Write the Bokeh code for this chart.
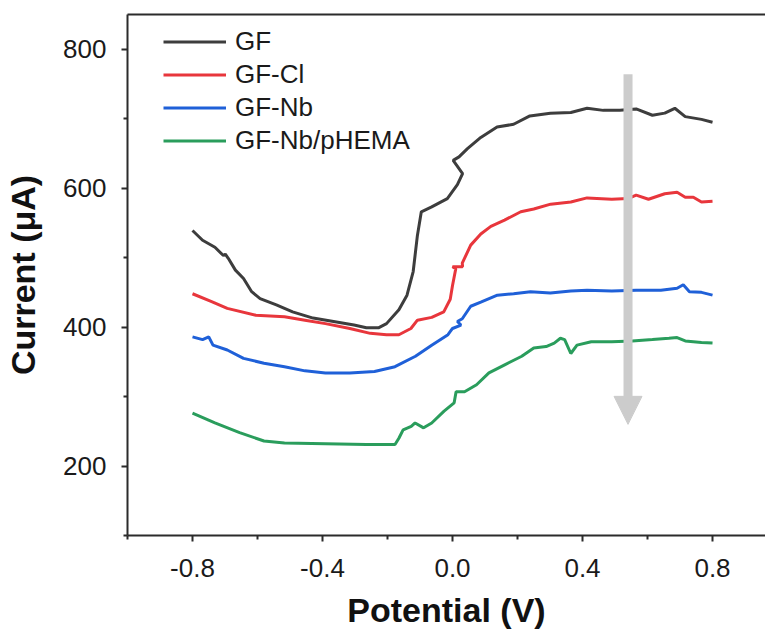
from bokeh.plotting import figure
from bokeh.models import (Range1d, LinearAxis, FixedTicker, NumeralTickFormatter,
                          Legend, LegendItem, Arrow, NormalHead)
from bokeh.embed import file_html
from bokeh.resources import INLINE

# ---- data ----
gf_v = [-0.800, -0.769, -0.731, -0.705, -0.699, -0.690, -0.668, -0.643, -0.618, -0.592,
        -0.542, -0.492, -0.429, -0.366, -0.303, -0.265, -0.228, -0.203, -0.165, -0.140,
        -0.121, -0.108, -0.096, -0.064, -0.016, 0.015, 0.031, 0.002, 0.020, 0.046,
        0.087, 0.137, 0.188, 0.238, 0.301, 0.364, 0.414, 0.464, 0.515, 0.565,
        0.615, 0.653, 0.684, 0.716, 0.766, 0.800]
gf_i = [539, 525, 515, 503, 505, 499, 482, 470, 451, 441,
        432, 422, 413, 408, 403, 399, 399, 405, 425, 446,
        480, 532, 566, 573, 585, 605, 621, 640, 645, 657,
        673, 688, 692, 704, 708, 709, 715, 712, 712, 714,
        705, 708, 715, 703, 699, 695]

gfcl_v = [-0.800, -0.743, -0.693, -0.605, -0.517, -0.454, -0.391, -0.316, -0.253, -0.203,
          -0.165, -0.128, -0.108, -0.064, -0.027, -0.007, 0.000, 0.010, 0.000, 0.031,
          0.030, 0.056, 0.087, 0.118, 0.160, 0.210, 0.250, 0.302, 0.364, 0.414,
          0.490, 0.540, 0.565, 0.603, 0.653, 0.691, 0.716, 0.741, 0.766, 0.800]
gfcl_i = [448, 437, 427, 417, 415, 410, 405, 398, 391, 389,
          389, 398, 410, 414, 422, 440, 460, 484, 487, 487,
          492, 518, 534, 545, 554, 566, 570, 577, 580, 586,
          584, 585, 590, 584, 592, 594, 587, 587, 580, 581]

gfnb_v = [-0.800, -0.769, -0.750, -0.737, -0.693, -0.643, -0.580, -0.517, -0.454, -0.391,
          -0.316, -0.240, -0.177, -0.114, -0.064, -0.014, 0.000, 0.026, 0.015, 0.030,
          0.056, 0.087, 0.138, 0.188, 0.240, 0.301, 0.364, 0.414, 0.490, 0.565,
          0.641, 0.691, 0.710, 0.729, 0.766, 0.800]
gfnb_i = [386, 382, 386, 374, 367, 355, 348, 343, 337, 334,
          334, 336, 343, 358, 374, 389, 398, 403, 408, 412,
          430, 436, 446, 448, 451, 449, 452, 453, 452, 453,
          453, 456, 461, 451, 450, 446]

gfph_v = [-0.800, -0.731, -0.655, -0.580, -0.517, -0.391, -0.265, -0.177, -0.165, -0.152,
          -0.127, -0.115, -0.089, -0.064, -0.026, 0.005, 0.011, 0.037, 0.074, 0.112,
          0.162, 0.213, 0.250, 0.288, 0.313, 0.332, 0.345, 0.364, 0.383, 0.427,
          0.490, 0.553, 0.615, 0.666, 0.691, 0.716, 0.766, 0.800]
gfph_i = [276, 262, 248, 236, 233, 232, 231, 231, 240, 252,
          257, 262, 255, 262, 279, 291, 307, 307, 317, 334,
          346, 358, 370, 372, 377, 384, 382, 362, 374, 379,
          379, 380, 382, 384, 385, 380, 378, 377]

series_names = ["GF", "GF-Cl", "GF-Nb", "GF-Nb/pHEMA"]
series_colors = ["#3d3d3d", "#e8363c", "#1f60d8", "#2a9d5c"]

x_major = [-0.8, -0.4, 0.0, 0.4, 0.8]
x_minor = [-1.0, -0.6, -0.2, 0.2, 0.6]
y_major = [200, 400, 600, 800]
y_minor = [100, 300, 500, 700]

arrow_v = 0.540
arrow_top = 764
arrow_tip = 260

FONT = "Liberation Sans"
AX = "#2b2b2b"

p = figure(width=765, height=631, output_backend="svg", toolbar_location=None,
           x_range=Range1d(-1.0, 0.963), y_range=Range1d(100, 850),
           min_border_left=127, min_border_right=0, min_border_top=14, min_border_bottom=93)
p.background_fill_color = "white"
p.border_fill_color = "white"
p.outline_line_color = None
p.grid.visible = False

renderers = []
for xs, ys, c in [(gf_v, gf_i, series_colors[0]), (gfcl_v, gfcl_i, series_colors[1]),
                  (gfnb_v, gfnb_i, series_colors[2]), (gfph_v, gfph_i, series_colors[3])]:
    renderers.append(p.line(xs, ys, line_color=c, line_width=3))

# axes styling
xa = p.xaxis[0]
xa.ticker = FixedTicker(ticks=x_major, minor_ticks=x_minor)
xa.formatter = NumeralTickFormatter(format="0.0")
xa.axis_label = "Potential (V)"
ya = p.yaxis[0]
ya.ticker = FixedTicker(ticks=y_major, minor_ticks=y_minor)
ya.axis_label = "Current (μA)"
for a in (xa, ya):
    a.axis_line_color = AX
    a.axis_line_width = 2
    a.major_tick_line_color = AX
    a.minor_tick_line_color = AX
    a.major_tick_line_width = 2
    a.minor_tick_line_width = 2
    a.major_tick_in = 0
    a.major_tick_out = 6
    a.minor_tick_in = 0
    a.minor_tick_out = 4
    a.major_label_text_font = FONT
    a.major_label_text_font_size = "26px"
    a.major_label_text_color = "#1a1a1a"
    a.axis_label_text_font = FONT
    a.axis_label_text_font_style = "bold"
    a.axis_label_text_font_size = "34px"
    a.axis_label_text_color = "#111111"
xa.major_label_standoff = 17
xa.axis_label_standoff = 11
ya.major_label_standoff = 15
ya.axis_label_standoff = 18

top = LinearAxis(ticker=FixedTicker(ticks=[]), axis_line_color=AX, axis_line_width=2,
                 major_tick_line_color=None, minor_tick_line_color=None,
                 major_label_text_font_size="0px", major_label_standoff=0)
p.add_layout(top, "above")

legend = Legend(items=[LegendItem(label=n, renderers=[r]) for n, r in zip(series_names, renderers)],
                location=(36, 378), border_line_color=None, background_fill_alpha=0,
                label_text_font=FONT, label_text_font_size="26px", label_text_color="#1a1a1a",
                glyph_width=63, glyph_height=33, label_height=33, label_standoff=9,
                spacing=0, padding=0, margin=0)
p.add_layout(legend)

p.add_layout(Arrow(x_start=arrow_v, y_start=arrow_top, x_end=arrow_v, y_end=arrow_tip,
                   line_color="#cccccc", line_width=9,
                   end=NormalHead(size=28, fill_color="#cccccc", line_color="#cccccc", line_width=1)))

open("out.html", "w").write(file_html(p, INLINE))
